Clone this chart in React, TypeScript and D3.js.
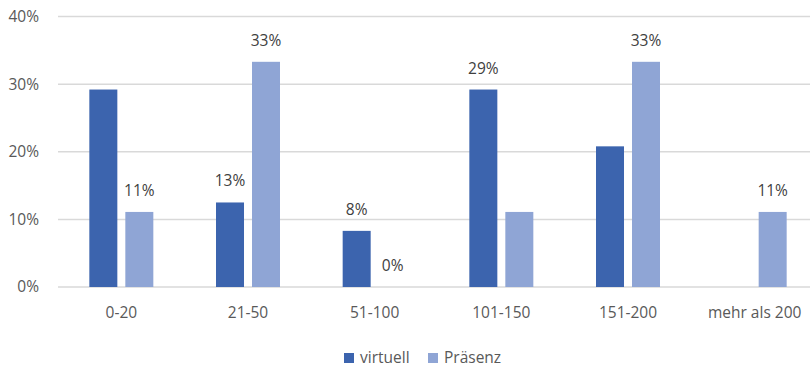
import React from "react";
import * as d3 from "d3";

const categories = ["0-20", "21-50", "51-100", "101-150", "151-200", "mehr als 200"];
const seriesNames = ["virtuell", "Präsenz"];
const virtuell = [29.2, 12.5, 8.3, 29.2, 20.8, 0];
const praesenz = [11.1, 33.3, 0, 11.1, 33.3, 11.1];
const virtuellLabels = [false, true, true, true, false, false];
const praesenzLabels = [true, true, true, false, true, true];
const yTicks = [0, 10, 20, 30, 40];
const colors = ["#3C64AE", "#8FA5D5"];

const W = 810;
const H = 370;
const FONT = "'Open Sans', sans-serif";
const FS = 15.5;

export default function App() {
  const left = 58;
  const right = 818;
  const y = d3.scaleLinear().domain([0, 40]).range([287, 16.5]);
  const x0 = d3.scaleBand<string>().domain(categories).range([left, right]).padding(0);
  const groupW = 64;
  const x1 = d3.scaleBand<string>().domain(seriesNames).range([0, groupW]).paddingInner(0.222);
  const off = (x0.bandwidth() - groupW) / 2;
  const data = [virtuell, praesenz];
  const labels = [virtuellLabels, praesenzLabels];

  return (
    <svg width={W} height={H} style={{ position: "absolute", left: 0, top: 0, background: "#fff" }}>
      {yTicks.map((t) => (
        <g key={t}>
          <line x1={left} x2={W} y1={y(t)} y2={y(t)} stroke="#d9d9d9" strokeWidth={1.5} />
          <text x={39} y={y(t)} dy="0.35em" textAnchor="end" fontFamily={FONT} fontSize={FS} fill="#595959">
            {t}%
          </text>
        </g>
      ))}
      {categories.map((c, i) => (
        <g key={c}>
          {seriesNames.map((s, si) => {
            const v = data[si][i];
            const bx = (x0(c) as number) + off + (x1(s) as number);
            const bw = x1.bandwidth();
            return (
              <g key={s}>
                {v > 0 && (
                  <rect x={bx} y={y(v)} width={bw} height={y(0) - y(v)} fill={colors[si]} />
                )}
                {labels[si][i] && (
                  <text
                    x={bx + bw / 2}
                    y={y(v) - 16}
                    textAnchor="middle"
                    fontFamily={FONT}
                    fontSize={FS}
                    fill="#404040"
                  >
                    {Math.round(v)}%
                  </text>
                )}
              </g>
            );
          })}
          <text
            x={(x0(c) as number) + x0.bandwidth() / 2}
            y={318}
            textAnchor="middle"
            fontFamily={FONT}
            fontSize={FS}
            fill="#595959"
          >
            {c}
          </text>
        </g>
      ))}
      {seriesNames.map((s, si) => {
        const lx = [344, 428][si];
        return (
          <g key={s}>
            <rect x={lx} y={353} width={10} height={10} fill={colors[si]} />
            <text x={lx + 16} y={358} dy="0.35em" fontFamily={FONT} fontSize={FS} fill="#595959">
              {s}
            </text>
          </g>
        );
      })}
    </svg>
  );
}
